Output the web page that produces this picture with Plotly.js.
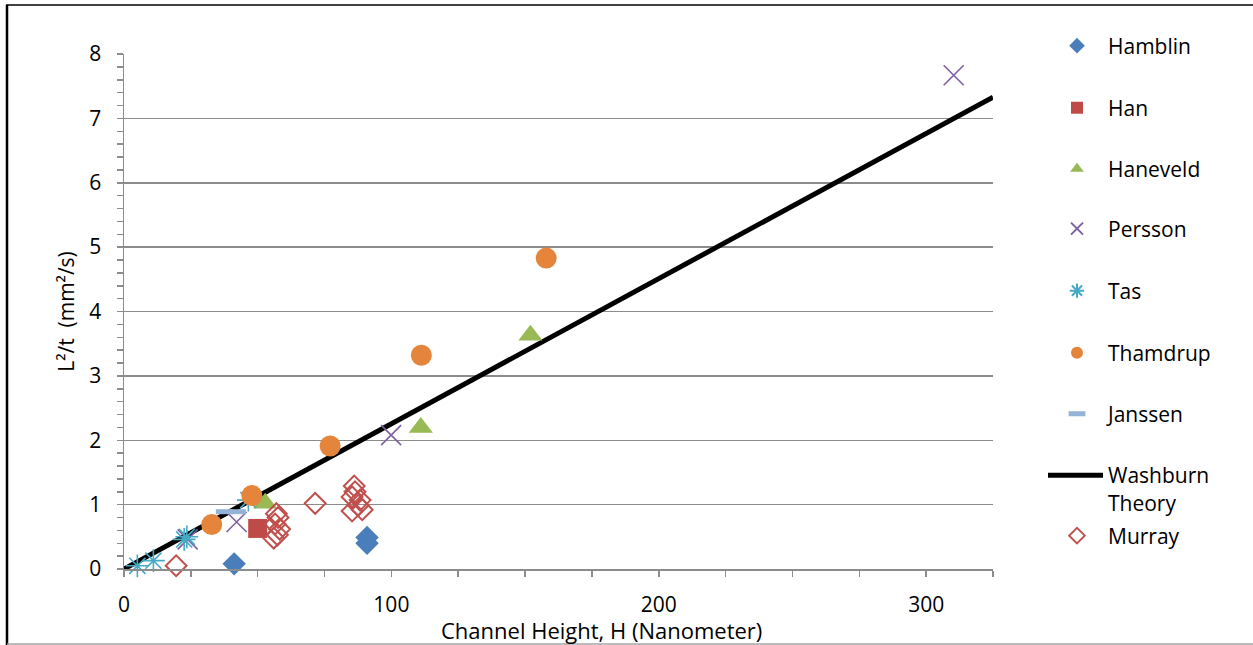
<!DOCTYPE html>
<html>
<head>
<meta charset="utf-8">
<script src="https://cdn.plot.ly/plotly-3.0.1.min.js"></script>
<style>
  html, body { margin: 0; padding: 0; background: #ffffff; }
  #chart { width: 1253px; height: 645px; }
</style>
</head>
<body>
<div id="chart"></div>
<script>
// Capillary filling: L^2/t versus channel height, literature data and Washburn theory

const hamblinH = [41.2, 90.9, 90.9];
const hamblinL = [0.08, 0.49, 0.40];

const hanH = [50.0];
const hanL = [0.63];

const haneveldH = [52.8, 111.0, 152.0];
const haneveldL = [1.02, 2.20, 3.63];

const perssonH = [310.3, 99.9, 42.1, 23.8];
const perssonL = [7.67, 2.08, 0.73, 0.46];

const tasH = [5.0, 11.0, 22.5, 23.5, 46.5];
const tasL = [0.05, 0.13, 0.46, 0.50, 1.07];

const thamdrupH = [32.8, 47.8, 77.1, 111.2, 157.9];
const thamdrupL = [0.69, 1.14, 1.91, 3.32, 4.83];

const janssenH = [37.5, 42.5];
const janssenL = [0.89, 0.89];

const washburnH = [0, 325];
const washburnL = [0, 7.33];

const murrayH = [19.5, 71.5, 57.0, 57.6, 56.5, 58.2, 56.0, 57.4,
                 86.1, 86.4, 85.3, 88.3, 87.6, 85.3, 89.1];
const murrayL = [0.05, 1.02, 0.86, 0.80, 0.70, 0.62, 0.48, 0.53,
                 1.29, 1.20, 1.12, 1.07, 0.99, 0.90, 0.92];

const FONT = 'Open Sans, Liberation Sans, sans-serif';
const GRAY = '#8c8c8c';

// plot area geometry, in pixels of the page
const PLOT = { left: 124, top: 54, right: 993, bottom: 569 };
const pw = PLOT.right - PLOT.left, ph = PLOT.bottom - PLOT.top;
const px = v => (v - PLOT.left) / pw;
const py = v => (PLOT.bottom - v) / ph;

const traces = [
  { name: 'Washburn<br>Theory', x: washburnH, y: washburnL, mode: 'lines',
    line: { color: '#000000', width: 5 }, legend: 'legend8' },
  { name: 'Hamblin', x: hamblinH, y: hamblinL, mode: 'markers',
    marker: { symbol: 'diamond', size: 18, color: '#4a7ebb' }, legend: 'legend' },
  { name: 'Han', x: hanH, y: hanL, mode: 'markers',
    marker: { symbol: 'square', size: 19, color: '#be4b48' }, legend: 'legend2' },
  { name: 'Haneveld', x: haneveldH, y: haneveldL, mode: 'markers',
    marker: { symbol: 'triangle-up', size: 21, color: '#98b954' }, legend: 'legend3' },
  { name: 'Persson', x: perssonH, y: perssonL, mode: 'markers',
    marker: { symbol: 'x-thin-open', size: 20, color: '#7d60a0', line: { width: 1.6 } }, legend: 'legend4' },
  { name: 'Tas', x: tasH, y: tasL, mode: 'markers',
    marker: { symbol: 'asterisk-open', size: 19, color: '#46aac5', line: { width: 1.6 } }, legend: 'legend5' },
  { name: 'Thamdrup', x: thamdrupH, y: thamdrupL, mode: 'markers',
    marker: { symbol: 'circle', size: 21, color: '#e5853b' }, legend: 'legend6' },
  { name: 'Janssen', x: janssenH, y: janssenL, mode: 'markers',
    marker: { symbol: 'line-ew-open', size: 12, color: '#95b3d7', line: { width: 5 } }, legend: 'legend7' },
  { name: 'Murray', x: murrayH, y: murrayL, mode: 'markers',
    marker: { symbol: 'diamond-open', size: 16, color: '#c0504d', line: { width: 2 } }, legend: 'legend9' }
];
traces.forEach(t => { t.type = 'scatter'; t.cliponaxis = false; t.hoverinfo = 'skip'; });

// one legend box per entry so each row sits on its own line
const rowY = [46, 108, 169, 229, 291, 353, 414, 489, 536];
const legendKeys = ['legend', 'legend2', 'legend3', 'legend4', 'legend5',
                    'legend6', 'legend7', 'legend8', 'legend9'];

const axisFont = { family: FONT, size: 21, color: '#000000' };

const layout = {
  width: 1253, height: 645,
  margin: { l: PLOT.left, r: 1253 - PLOT.right, t: PLOT.top, b: 645 - PLOT.bottom, pad: 0 },
  paper_bgcolor: '#ffffff', plot_bgcolor: '#ffffff',
  font: { family: FONT, color: '#000000' },
  showlegend: true,
  xaxis: {
    range: [0, 325], dtick: 100, tick0: 0,
    ticks: 'outside', ticklen: 6, tickwidth: 1.5, tickcolor: GRAY,
    minor: { dtick: 25, ticks: 'outside', ticklen: 6, tickwidth: 1.5, tickcolor: GRAY, showgrid: false },
    showline: true, linecolor: GRAY, linewidth: 1.5,
    showgrid: false, zeroline: false,
    tickfont: axisFont, ticklabelstandoff: 10
  },
  xaxis2: {
    overlaying: 'x', anchor: 'y', range: [0, 325], dtick: 25, tick0: 0,
    ticks: 'inside', ticklen: 6, tickwidth: 1.5, tickcolor: GRAY,
    showticklabels: false, showgrid: false, zeroline: false, showline: false
  },
  yaxis: {
    range: [0, 8], dtick: 1, tick0: 0,
    ticks: 'outside', ticklen: 6, tickwidth: 1.5, tickcolor: GRAY,
    minor: { dtick: 0.2, ticks: 'outside', ticklen: 6, tickwidth: 1.5, tickcolor: GRAY, showgrid: false },
    showline: true, linecolor: GRAY, linewidth: 1.5,
    showgrid: true, gridcolor: GRAY, gridwidth: 1.5, zeroline: false,
    tickfont: axisFont, ticklabelstandoff: 11,
    title: { text: 'L²/t  (mm²/s)', font: { family: FONT, size: 21, color: '#000000' }, standoff: 9 }
  },
  yaxis2: {
    overlaying: 'y', anchor: 'x', range: [0, 8], dtick: 0.2, tick0: 0,
    ticks: 'inside', ticklen: 6, tickwidth: 1.5, tickcolor: GRAY,
    showticklabels: false, showgrid: false, zeroline: false, showline: false
  },
  annotations: [
    { text: 'Channel Height, H (Nanometer)', xref: 'paper', yref: 'paper',
      x: px(601), y: py(630), xanchor: 'center', yanchor: 'middle', showarrow: false,
      font: { family: FONT, size: 22, color: '#000000' } }
  ],
  shapes: [
    { type: 'line', xref: 'paper', yref: 'paper', x0: px(7), x1: px(7), y0: py(5), y1: py(646),
      line: { color: '#000000', width: 2.5 } },
    { type: 'line', xref: 'paper', yref: 'paper', x0: px(6), x1: px(1254), y0: py(5), y1: py(5),
      line: { color: '#000000', width: 1.5 } },
    { type: 'line', xref: 'paper', yref: 'paper', x0: px(7), x1: px(1254), y0: py(644), y1: py(644),
      line: { color: '#a6a6a6', width: 1.5 } }
  ]
};

legendKeys.forEach((k, i) => {
  const twoLine = k === 'legend8';
  layout[k] = {
    x: px(twoLine ? 1043 : 1046), xanchor: 'left',
    y: py(rowY[i]), yanchor: 'middle',
    bgcolor: 'rgba(0,0,0,0)', borderwidth: 0,
    font: { family: FONT, size: 21, color: '#000000' },
    itemsizing: k === 'legend7' ? 'trace' : 'constant',
    itemwidth: twoLine ? 55 : 52,
    valign: twoLine ? 'top' : 'middle',
    itemclick: false, itemdoubleclick: false
  };
});

Plotly.newPlot('chart', traces, layout, { staticPlot: true, displayModeBar: false });
</script>
</body>
</html>
